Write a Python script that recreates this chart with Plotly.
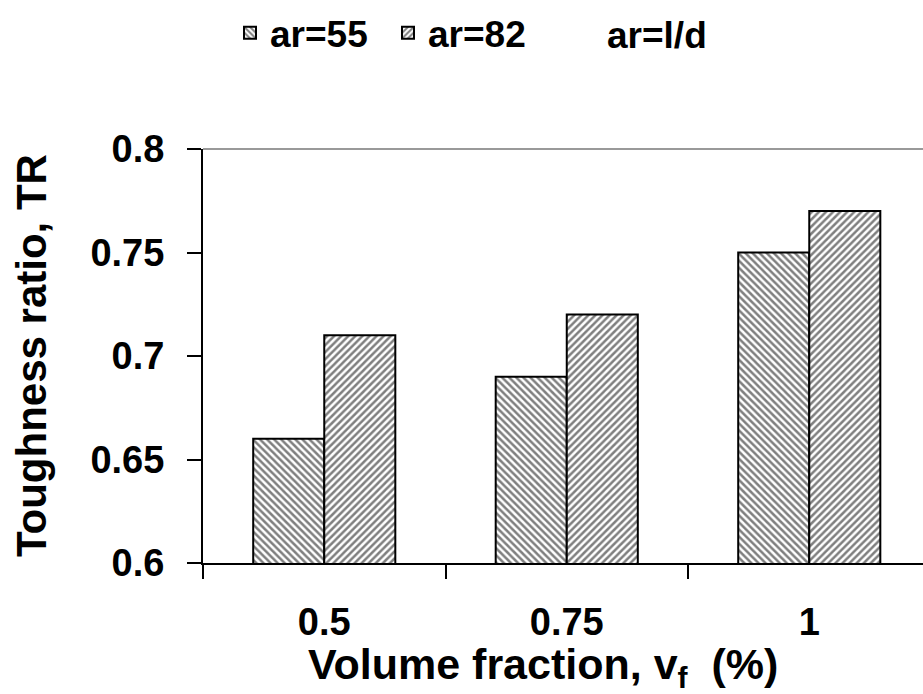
import plotly.graph_objects as go

categories = ["0.5", "0.75", "1"]
ar55 = [0.66, 0.69, 0.75]
ar82 = [0.71, 0.72, 0.77]
ytick_vals = [0.6, 0.65, 0.7, 0.75, 0.8]
ytick_text = ["0.6", "0.65", "0.7", "0.75", "0.8"]

FONT = "Liberation Sans, Arial, sans-serif"

fig = go.Figure()
fig.add_trace(go.Bar(
    x=categories, y=ar55, name="ar=55",
    marker=dict(color="white", line=dict(color="black", width=2),
                pattern=dict(shape="\\", fgcolor="black", bgcolor="white",
                             size=5, solidity=0.5)),
))
fig.add_trace(go.Bar(
    x=categories, y=ar82, name="ar=82",
    marker=dict(color="white", line=dict(color="black", width=2),
                pattern=dict(shape="/", fgcolor="black", bgcolor="white",
                             size=5, solidity=0.5)),
))

fig.update_layout(
    width=923, height=694,
    margin=dict(l=203, r=0, t=149, b=131),
    paper_bgcolor="white", plot_bgcolor="white",
    barmode="group", bargap=0.414, bargroupgap=0,
    font=dict(family=FONT, color="black", size=38, weight="bold"),
    showlegend=True,
    legend=dict(orientation="h", x=230 / 923, xref="container", y=0.997, yref="container",
                xanchor="left", yanchor="top", entrywidth=113,
                font=dict(family=FONT, size=37, weight="bold"),
                itemwidth=30, bgcolor="rgba(0,0,0,0)"),
    xaxis=dict(type="category", range=[-0.5, 2.469], showline=True,
               linecolor="black", linewidth=2, ticks="outside", tickson="boundaries",
               ticklen=14, tickwidth=2, tickcolor="black", showgrid=False,
               ticklabelstandoff=24,
               tickfont=dict(family=FONT, size=38, weight="bold")),
    yaxis=dict(range=[0.6, 0.8], tickvals=ytick_vals, ticktext=ytick_text,
               showline=True, linecolor="black", linewidth=2, ticks="outside",
               ticklen=14, tickwidth=2, tickcolor="black", showgrid=False,
               zeroline=False, ticklabelstandoff=15,
               tickfont=dict(family=FONT, size=38, weight="bold")),
    shapes=[dict(type="line", xref="paper", yref="paper", x0=0, x1=1, y0=1, y1=1,
                 line=dict(color="#999999", width=2))],
    annotations=[
        dict(text="ar=l/d", xref="paper", yref="paper", x=(657 - 203) / 720,
             y=1 + (149 - 35) / 414, xanchor="center", yanchor="middle",
             showarrow=False, font=dict(family=FONT, size=37, weight="bold")),
        dict(text="Volume fraction, v<sub>f</sub>  (%)", xref="paper", yref="paper",
             x=(543 - 203) / 720, y=-(667 - 563) / 414, xanchor="center",
             yanchor="middle", showarrow=False,
             font=dict(family=FONT, size=43, weight="bold")),
        dict(text="Toughness ratio, TR", xref="paper", yref="paper",
             x=(31 - 203) / 720, y=0.5, textangle=-90, xanchor="center",
             yanchor="middle", showarrow=False,
             font=dict(family=FONT, size=42, weight="bold")),
    ],
)

fig.write_html("out.html")
